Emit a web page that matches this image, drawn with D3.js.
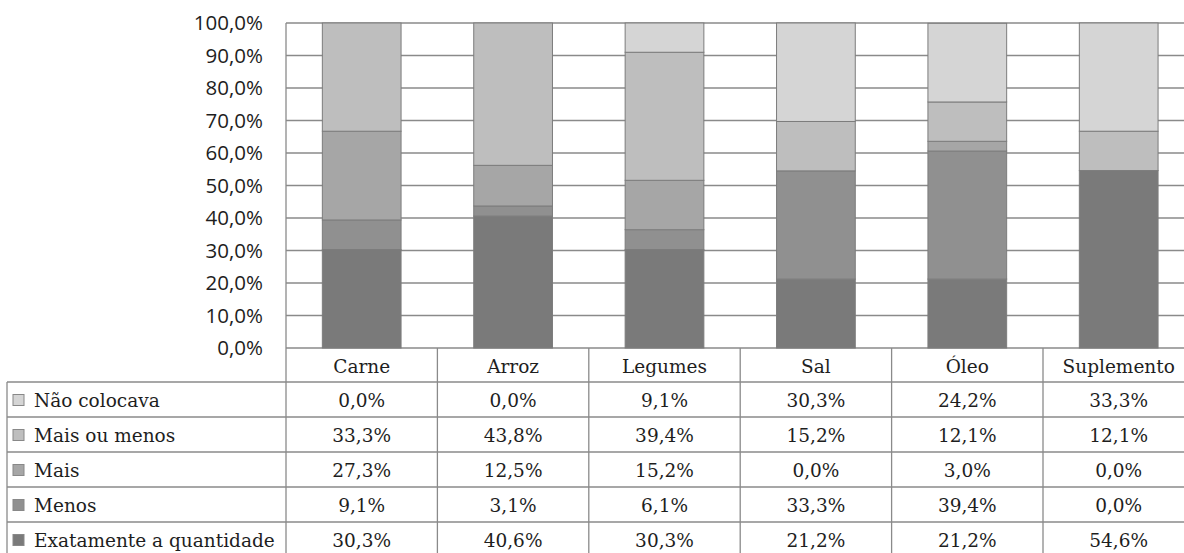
<!DOCTYPE html>
<html><head><meta charset="utf-8">
<script src="https://cdn.jsdelivr.net/npm/d3@7"></script>
<style>html,body{margin:0;padding:0;background:#fff;overflow:hidden}</style>
</head><body>
<svg id="c" width="1184" height="553"></svg>
<script>
const categories = ["Carne","Arroz","Legumes","Sal","Óleo","Suplemento"];
const seriesNames = ["Não colocava","Mais ou menos","Mais","Menos","Exatamente a quantidade"];
const naoColocava = [0.0, 0.0, 9.1, 30.3, 24.2, 33.3];
const maisOuMenos = [33.3, 43.8, 39.4, 15.2, 12.1, 12.1];
const mais = [27.3, 12.5, 15.2, 0.0, 3.0, 0.0];
const menos = [9.1, 3.1, 6.1, 33.3, 39.4, 0.0];
const exatamente = [30.3, 40.6, 30.3, 21.2, 21.2, 54.6];
const seriesValues = [naoColocava, maisOuMenos, mais, menos, exatamente];
const colors = ["#d5d5d5","#bebebe","#a6a6a6","#909090","#7a7a7a"];
const yTicks = [0,10,20,30,40,50,60,70,80,90,100];

(function(){
const fmt = v => v.toFixed(1).replace(".", ",") + "%";
const svg = d3.select("#c");
const pLeft = 286, pTop = 23, pBottom = 348, catW = 151.4;
const pRight = pLeft + catW * categories.length;
const x = d3.scaleBand().domain(categories).range([pLeft, pRight]).paddingInner(0.48).paddingOuter(0.24);
const xc = d3.scaleBand().domain(categories).range([pLeft, pRight]);
const y = d3.scaleLinear().domain([0, 100]).range([pBottom, pTop]);
const grid = "#8a8a8a";

svg.append("g").selectAll("line").data(yTicks).join("line")
  .attr("x1", pLeft).attr("x2", pRight)
  .attr("y1", d => y(d)).attr("y2", d => y(d))
  .attr("stroke", grid).attr("stroke-width", 1.3);
svg.append("line").attr("x1", pLeft).attr("x2", pLeft).attr("y1", pTop).attr("y2", 553)
  .attr("stroke", grid).attr("stroke-width", 1.3);

const rows = categories.map((c, i) => {
  const o = {cat: c};
  seriesNames.forEach((s, j) => o[s] = seriesValues[j][i]);
  return o;
});
const keysBottomUp = seriesNames.slice().reverse();
const stack = d3.stack().keys(keysBottomUp)(rows);
svg.append("g").selectAll("g").data(stack).join("g")
  .attr("fill", d => colors[seriesNames.indexOf(d.key)])
  .selectAll("rect").data(d => d.filter(p => p[1] - p[0] > 0)).join("rect")
  .attr("x", d => x(d.data.cat)).attr("width", x.bandwidth())
  .attr("y", d => y(Math.min(100, d[1]))).attr("height", d => y(d[0]) - y(Math.min(100, d[1])))
  .attr("stroke", "#7c7c7c").attr("stroke-width", 1);

svg.append("g").selectAll("text").data(yTicks).join("text")
  .attr("x", 263).attr("y", d => y(d)).attr("dy", "0.36em")
  .attr("text-anchor", "end")
  .attr("font-family", "'Open Sans', sans-serif").attr("font-size", 20.5)
  .attr("fill", "#1e1e1e").text(d => fmt(d));

const rowH = 35, headerBottom = 382;
const tableLeft = 7;
const tbl = svg.append("g");
categories.forEach((c) => {
  tbl.append("line").attr("x1", xc(c) + xc.bandwidth()).attr("x2", xc(c) + xc.bandwidth())
    .attr("y1", pBottom).attr("y2", 553).attr("stroke", grid).attr("stroke-width", 1.3);
});
const hl = [0,1,2,3,4,5].map(k => headerBottom + k * rowH);
tbl.selectAll("line.h").data(hl).join("line")
  .attr("x1", tableLeft).attr("x2", pRight)
  .attr("y1", d => d).attr("y2", d => d)
  .attr("stroke", grid).attr("stroke-width", 1.3);
tbl.append("line").attr("x1", tableLeft).attr("x2", tableLeft).attr("y1", headerBottom).attr("y2", 553)
  .attr("stroke", grid).attr("stroke-width", 1.3);

const serif = "'DejaVu Serif', serif";
const fsz = 18.5;
tbl.selectAll("text.cat").data(categories).join("text")
  .attr("x", d => xc(d) + xc.bandwidth() / 2).attr("y", (pBottom + headerBottom) / 2 + 1).attr("dy", "0.36em")
  .attr("text-anchor", "middle").attr("font-family", serif).attr("font-size", fsz).attr("fill", "#1e1e1e")
  .text(d => d);

seriesNames.forEach((s, j) => {
  const cy = headerBottom + j * rowH + rowH / 2 + 1;
  tbl.append("rect").attr("x", 13).attr("y", cy - 6).attr("width", 11).attr("height", 11)
    .attr("fill", colors[j]).attr("stroke", "#888").attr("stroke-width", 1);
  tbl.append("text").attr("x", 34).attr("y", cy).attr("dy", "0.36em")
    .attr("font-family", serif).attr("font-size", fsz).attr("fill", "#1e1e1e").text(s);
  tbl.selectAll(null).data(seriesValues[j]).join("text")
    .attr("x", (d, i) => xc(categories[i]) + xc.bandwidth() / 2).attr("y", cy).attr("dy", "0.36em")
    .attr("text-anchor", "middle").attr("font-family", serif).attr("font-size", fsz).attr("fill", "#1e1e1e")
    .text(d => fmt(d));
});
})();
</script>
</body></html>
